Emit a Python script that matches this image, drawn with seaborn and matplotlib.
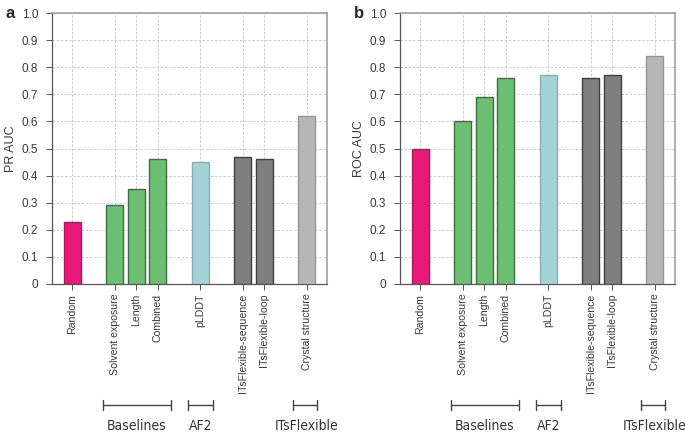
"""PR AUC and ROC AUC comparison of flexibility predictors (panels a and b)."""
import matplotlib

matplotlib.use("Agg")
import matplotlib.pyplot as plt
import numpy as np
import pandas as pd
import seaborn as sns
from matplotlib import font_manager

# --- data --------------------------------------------------------------
methods = [
    "Random",
    "Solvent exposure",
    "Length",
    "Combined",
    "pLDDT",
    "ITsFlexible-sequence",
    "ITsFlexible-loop",
    "Crystal structure",
]
groups = ["random", "baseline", "baseline", "baseline", "af2", "itsflex", "itsflex", "crystal"]
pr_auc = [0.23, 0.29, 0.35, 0.46, 0.45, 0.47, 0.46, 0.62]
roc_auc = [0.50, 0.60, 0.69, 0.76, 0.77, 0.76, 0.77, 0.84]
ytick_values = [0, 0.1, 0.2, 0.3, 0.4, 0.5, 0.6, 0.7, 0.8, 0.9, 1.0]
ytick_labels = ["0", "0.1", "0.2", "0.3", "0.4", "0.5", "0.6", "0.7", "0.8", "0.9", "1.0"]
bracket_names = ["Baselines", "AF2", "ITsFlexible"]

# --- styling -----------------------------------------------------------
FACE = {
    "random": "#e8197a",
    "baseline": "#6dbf74",
    "af2": "#a3d3d7",
    "itsflex": "#7f7f7f",
    "crystal": "#b6b6b6",
}
EDGE = {
    "random": "#b0155e",
    "baseline": "#3c6e40",
    "af2": "#86aeb2",
    "itsflex": "#3f3f3f",
    "crystal": "#959595",
}
# bracket spans / label centres in bar units (layout only)
BRACKETS = [(1.43, 4.62, 3.01), (5.42, 6.62, 6.04), (10.35, 11.47, 10.97)]

sns.set_theme(style="white")
plt.rcParams["font.family"] = ["Liberation Sans", "DejaVu Sans"]


def condensed_font():
    """Pick a narrow sans face for the group labels, if one is installed."""
    for f in font_manager.fontManager.ttflist:
        name = f.fname.lower()
        if "liberationsansnarrow-regular" in name:
            return font_manager.FontProperties(fname=f.fname, size=10)
    for f in font_manager.fontManager.ttflist:
        name = f.fname.lower()
        if "dejavusanscondensed.ttf" in name:
            return font_manager.FontProperties(fname=f.fname, size=10)
    return font_manager.FontProperties(family="DejaVu Sans", size=9)


GROUP_FONT = condensed_font()


def positions(group_list):
    """Put a one-bar gap between consecutive groups."""
    pos, x = [], 0
    for i, g in enumerate(group_list):
        if i > 0 and g != group_list[i - 1]:
            x += 1
        pos.append(x)
        x += 1
    return pos


xpos = positions(groups)


def panel(ax, values, ylabel, letter):
    df = pd.DataFrame({"x": xpos, "value": values, "method": methods, "group": groups})
    sns.barplot(
        data=df, x="x", y="value", hue="method",
        palette={m: FACE[g] for m, g in zip(methods, groups)},
        native_scale=True, width=0.8, legend=False, saturation=1,
        linewidth=1.0, ax=ax, zorder=3,
    )
    for patch in ax.patches:
        cx = patch.get_x() + patch.get_width() / 2
        idx = int(np.argmin(np.abs(np.array(xpos) - cx)))
        patch.set_edgecolor(EDGE[groups[idx]])

    ax.set_xlim(-0.95, 11.95)
    ax.set_ylim(0, 1.0)
    ax.set_yticks(ytick_values)
    ax.set_yticklabels(ytick_labels, fontsize=8.5, color="#3a3a3a")
    ax.set_xticks(xpos)
    ax.set_xticklabels(methods, rotation=90, fontsize=7.6, color="#3a3a3a")
    ax.set_xlabel("")
    ax.set_ylabel(ylabel, fontsize=9, color="#3a3a3a", va="center")
    ax.yaxis.set_label_coords(-0.148, 0.5)
    ax.grid(True, linestyle=(0, (3, 2)), linewidth=0.6, color="#c4c4c4")
    ax.set_axisbelow(True)
    ax.tick_params(axis="both", which="both", length=4, width=0.7, color="#555555",
                   bottom=True, left=True)
    ax.tick_params(axis="y", pad=6)
    ax.tick_params(axis="x", pad=3)
    for side in ["left", "bottom"]:
        ax.spines[side].set_color("#555555")
        ax.spines[side].set_linewidth(0.9)
    for side in ["top", "right"]:
        ax.spines[side].set_color("#a0a0a0")
        ax.spines[side].set_linewidth(1.2)

    trans = ax.get_xaxis_transform()
    for (x0, x1, xc), name in zip(BRACKETS, bracket_names):
        ax.plot([x0, x1], [-0.446, -0.446], color="#444444", lw=1.0,
                transform=trans, clip_on=False)
        for xe in (x0, x1):
            ax.plot([xe, xe], [-0.428, -0.464], color="#444444", lw=1.0,
                    transform=trans, clip_on=False)
        ax.text(xc, -0.525, name, ha="center", va="center", fontproperties=GROUP_FONT,
                color="#333333", transform=trans, clip_on=False)

    fig = ax.figure
    bbox = ax.get_position()
    fig.text(bbox.x0 - 0.068, 0.985, letter, fontsize=12, fontweight="bold",
             ha="left", va="top")


fig = plt.figure(figsize=(6.85, 4.32), dpi=100)
ax_a = fig.add_axes([0.0759, 0.3426, 0.4015, 0.627])
ax_b = fig.add_axes([0.584, 0.3426, 0.4015, 0.627])
panel(ax_a, pr_auc, "PR AUC", "a")
panel(ax_b, roc_auc, "ROC AUC", "b")

fig.savefig("out.png", dpi=100)
